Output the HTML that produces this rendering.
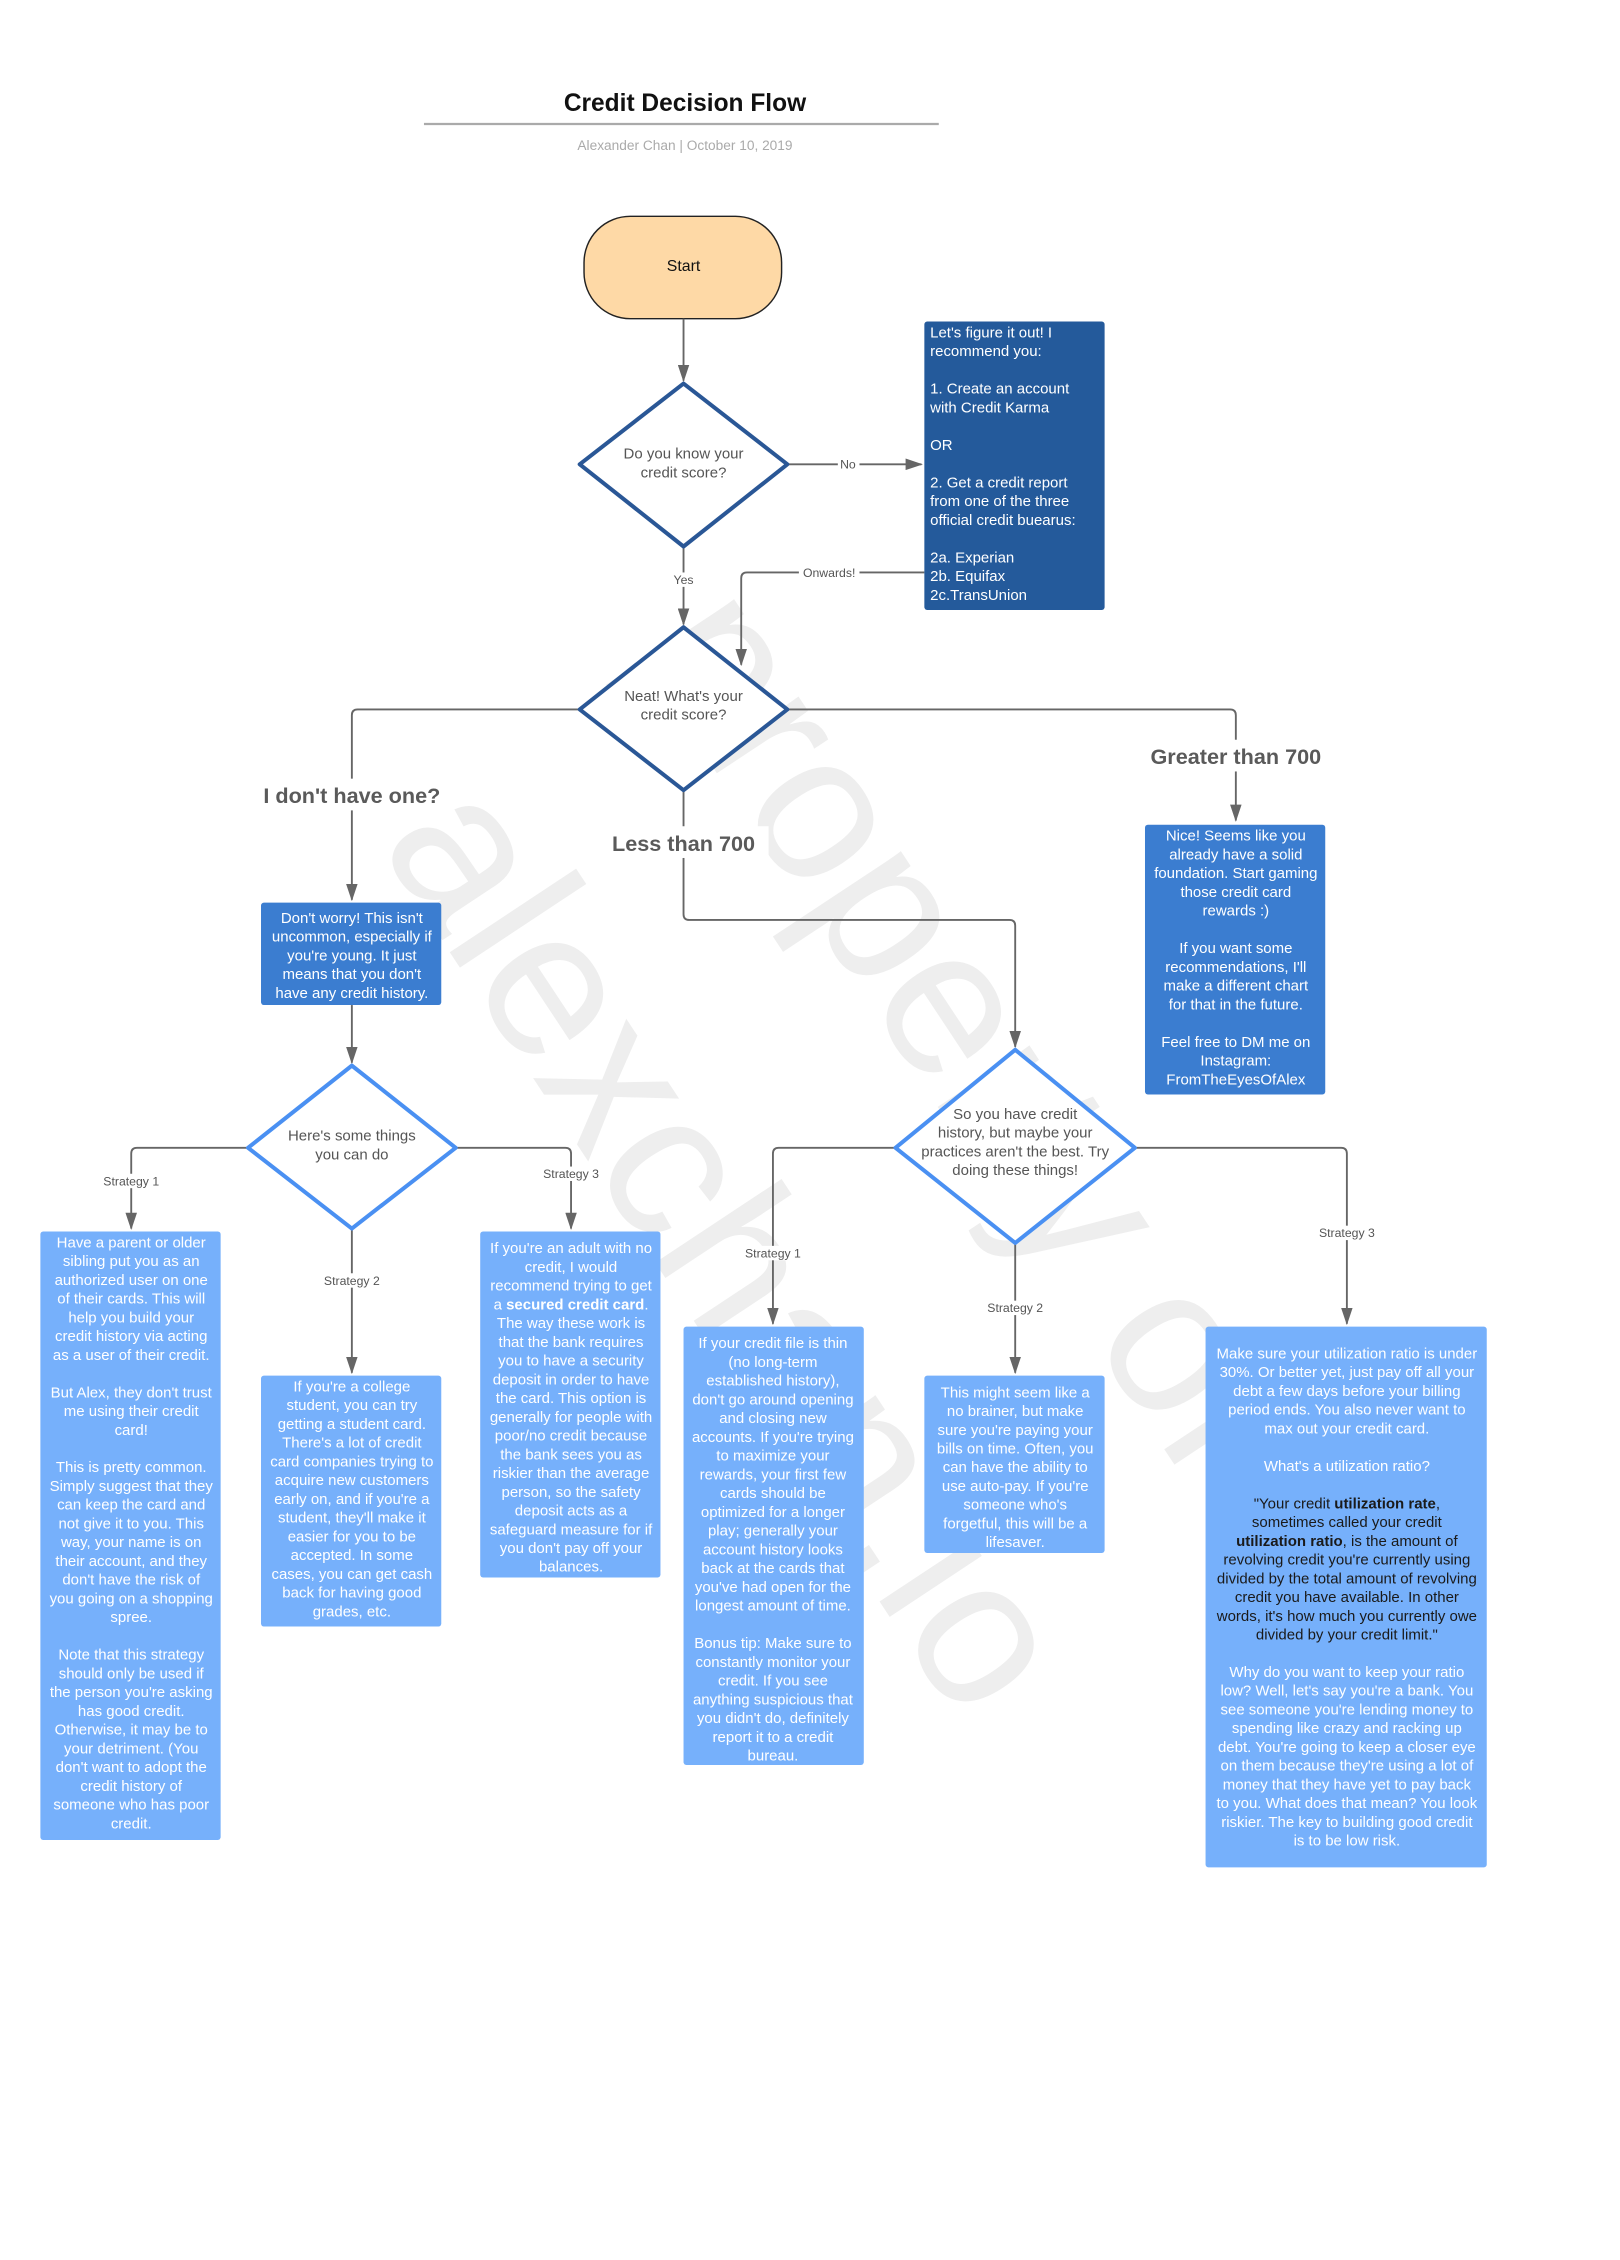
<!DOCTYPE html>
<html><head><meta charset="utf-8"><style>
html,body{margin:0;padding:0;background:#fff;width:1620px;height:2260px;overflow:hidden}
svg{display:block}
text{font-family:"Liberation Sans",Arial,sans-serif}
.c{stroke:#666;stroke-width:1.3;fill:none}
.lbl{font-size:8.5px;fill:#555;text-anchor:middle}
.big{font-size:15px;font-weight:bold;fill:#5a5a5a;text-anchor:middle}
.bt{font-size:10.4px;fill:#fff;text-anchor:middle}
.dt{font-size:10.4px;fill:#555;text-anchor:middle}
</style></head><body>
<svg width="1620" height="2260" viewBox="0 0 1123.4 1567.3" preserveAspectRatio="none" xmlns="http://www.w3.org/2000/svg">
<defs>
<marker id="v" markerWidth="8" markerHeight="12" refX="4" refY="11" orient="0" markerUnits="userSpaceOnUse"><path d="M0,0 L8,0 L4,12 z" fill="#666"/></marker>
<marker id="h" markerWidth="12" markerHeight="8" refX="11" refY="4" orient="0" markerUnits="userSpaceOnUse"><path d="M0,0 L12,4 L0,8 z" fill="#666"/></marker></defs>

<!-- watermark -->
<g fill="#eeeeee" font-family="Liberation Sans, sans-serif" font-size="145">
<text transform="translate(440,450) rotate(56.5)">property of</text>
<text transform="translate(262,585) rotate(56.5)">alexchan.io</text>
</g>

<text x="475" y="77" text-anchor="middle" font-size="17" font-weight="bold" fill="#111">Credit Decision Flow</text>
<line x1="294" y1="86" x2="651" y2="86" stroke="#aaa" stroke-width="1.5"/>
<text x="475" y="104" text-anchor="middle" font-size="9.5" fill="#aaa">Alexander Chan  |  October 10, 2019</text>

<rect x="405" y="150" width="137" height="71" rx="32" ry="32" fill="#fed9a6" stroke="#222" stroke-width="1"/>
<text x="474" y="188" text-anchor="middle" font-size="11" fill="#111">Start</text>

<path class="c" d="M474,221 V264" marker-end="url(#v)"/>
<path class="c" d="M547,322 H639" marker-end="url(#h)"/>
<rect x="581" y="317" width="15" height="10" fill="#fff"/><text class="lbl" x="588" y="325">No</text>
<path class="c" d="M474,380 V433" marker-end="url(#v)"/>
<rect x="463" y="397" width="22" height="10" fill="#fff"/><text class="lbl" x="474" y="405">Yes</text>
<path class="c" d="M641,397 H518 Q514,397 514,401 V461" marker-end="url(#v)"/>
<rect x="554" y="392" width="42" height="10" fill="#fff"/><text class="lbl" x="575" y="400">Onwards!</text>
<path class="c" d="M401,492 H248 Q244,492 244,496 V624" marker-end="url(#v)"/>
<rect x="175" y="540" width="138" height="22" fill="#fff"/><text class="big" x="244" y="557">I don't have one?</text>
<path class="c" d="M547,492 H853 Q857,492 857,496 V569" marker-end="url(#v)"/>
<rect x="790" y="513" width="134" height="22" fill="#fff"/><text class="big" x="857" y="530">Greater than 700</text>
<path class="c" d="M474,549 V634 Q474,638 478,638 H700 Q704,638 704,642 V726" marker-end="url(#v)" stroke="#888"/>
<rect x="415" y="573" width="118" height="22" fill="#fff"/><text class="big" x="474" y="590">Less than 700</text>
<path class="c" d="M244,697 V737" marker-end="url(#v)"/>
<path class="c" d="M171,796 H95 Q91,796 91,800 V852" marker-end="url(#v)"/>
<rect x="66" y="814" width="50" height="10" fill="#fff"/><text class="lbl" x="91" y="822">Strategy 1</text>
<path class="c" d="M244,853 V952" marker-end="url(#v)"/>
<rect x="219" y="883" width="50" height="10" fill="#fff"/><text class="lbl" x="244" y="891">Strategy 2</text>
<path class="c" d="M317,796 H392 Q396,796 396,800 V852" marker-end="url(#v)"/>
<rect x="371" y="809" width="50" height="10" fill="#fff"/><text class="lbl" x="396" y="817">Strategy 3</text>
<path class="c" d="M620,796 H540 Q536,796 536,800 V918" marker-end="url(#v)"/>
<rect x="511" y="864" width="50" height="10" fill="#fff"/><text class="lbl" x="536" y="872">Strategy 1</text>
<path class="c" d="M704,863 V952" marker-end="url(#v)"/>
<rect x="679" y="902" width="50" height="10" fill="#fff"/><text class="lbl" x="704" y="910">Strategy 2</text>
<path class="c" d="M788,796 H930 Q934,796 934,800 V918" marker-end="url(#v)"/>
<rect x="909" y="850" width="50" height="10" fill="#fff"/><text class="lbl" x="934" y="858">Strategy 3</text>

<path d="M474,266 L546,322 L474,379 L402,322 Z" fill="#fff" stroke="#2a5796" stroke-width="2.8" stroke-linejoin="round"/>
<text class="dt" x="474" y="318">Do you know your</text><text class="dt" x="474" y="331">credit score?</text>
<path d="M474,435 L546,492 L474,548 L402,492 Z" fill="#fff" stroke="#2a5796" stroke-width="2.8" stroke-linejoin="round"/>
<text class="dt" x="474" y="486">Neat! What's your</text><text class="dt" x="474" y="499">credit score?</text>
<path d="M244,739 L316,796 L244,852 L172,796 Z" fill="#fff" stroke="#4a90f2" stroke-width="2.8" stroke-linejoin="round"/>
<text class="dt" x="244" y="791">Here's some things</text><text class="dt" x="244" y="804">you can do</text>
<path d="M704,728 L787,796 L704,862 L621,796 Z" fill="#fff" stroke="#4a90f2" stroke-width="2.8" stroke-linejoin="round"/>
<text class="dt" x="704" y="776">So you have credit</text><text class="dt" x="704" y="789">history, but maybe your</text><text class="dt" x="704" y="802">practices aren't the best. Try</text><text class="dt" x="704" y="815">doing these things!</text>

<rect x="641" y="223" width="125" height="200" rx="2" fill="#245a9b"/>
<text font-size="10.4" fill="#fff"><tspan x="645" y="234">Let's figure it out! I</tspan><tspan x="645" y="247">recommend you:</tspan><tspan x="645" y="273">1. Create an account</tspan><tspan x="645" y="286">with Credit Karma</tspan><tspan x="645" y="312">OR</tspan><tspan x="645" y="338">2. Get a credit report</tspan><tspan x="645" y="351">from one of the three</tspan><tspan x="645" y="364">official credit buearus:</tspan><tspan x="645" y="390">2a. Experian</tspan><tspan x="645" y="403">2b. Equifax</tspan><tspan x="645" y="416">2c.TransUnion</tspan></text>

<rect x="794" y="572" width="125" height="187" rx="2" fill="#3b7dd0"/>
<text class="bt"><tspan x="857" y="583">Nice! Seems like you</tspan><tspan x="857" y="596">already have a solid</tspan><tspan x="857" y="609">foundation. Start gaming</tspan><tspan x="857" y="622">those credit card</tspan><tspan x="857" y="635">rewards :)</tspan><tspan x="857" y="661">If you want some</tspan><tspan x="857" y="674">recommendations, I'll</tspan><tspan x="857" y="687">make a different chart</tspan><tspan x="857" y="700">for that in the future.</tspan><tspan x="857" y="726">Feel free to DM me on</tspan><tspan x="857" y="739">Instagram:</tspan><tspan x="857" y="752">FromTheEyesOfAlex</tspan></text>

<rect x="181" y="626" width="125" height="71" rx="2" fill="#3b7dd0"/>
<text class="bt"><tspan x="244" y="640">Don't worry! This isn't</tspan><tspan x="244" y="653">uncommon, especially if</tspan><tspan x="244" y="666">you're young. It just</tspan><tspan x="244" y="679">means that you don't</tspan><tspan x="244" y="692">have any credit history.</tspan></text>

<g fill="#76b0fb">
<rect x="28" y="854" width="125" height="422" rx="2"/>
<rect x="181" y="954" width="125" height="174" rx="2"/>
<rect x="333" y="854" width="125" height="240" rx="2"/>
<rect x="474" y="920" width="125" height="304" rx="2"/>
<rect x="641" y="954" width="125" height="123" rx="2"/>
<rect x="836" y="920" width="195" height="375" rx="2"/>
</g>

<text class="bt"><tspan x="91" y="865">Have a parent or older</tspan><tspan x="91" y="878">sibling put you as an</tspan><tspan x="91" y="891">authorized user on one</tspan><tspan x="91" y="904">of their cards. This will</tspan><tspan x="91" y="917">help you build your</tspan><tspan x="91" y="930">credit history via acting</tspan><tspan x="91" y="943">as a user of their credit.</tspan><tspan x="91" y="969">But Alex, they don't trust</tspan><tspan x="91" y="982">me using their credit</tspan><tspan x="91" y="995">card!</tspan><tspan x="91" y="1021">This is pretty common.</tspan><tspan x="91" y="1034">Simply suggest that they</tspan><tspan x="91" y="1047">can keep the card and</tspan><tspan x="91" y="1060">not give it to you. This</tspan><tspan x="91" y="1073">way, your name is on</tspan><tspan x="91" y="1086">their account, and they</tspan><tspan x="91" y="1099">don't have the risk of</tspan><tspan x="91" y="1112">you going on a shopping</tspan><tspan x="91" y="1125">spree.</tspan><tspan x="91" y="1151">Note that this strategy</tspan><tspan x="91" y="1164">should only be used if</tspan><tspan x="91" y="1177">the person you're asking</tspan><tspan x="91" y="1190">has good credit.</tspan><tspan x="91" y="1203">Otherwise, it may be to</tspan><tspan x="91" y="1216">your detriment. (You</tspan><tspan x="91" y="1229">don't want to adopt the</tspan><tspan x="91" y="1242">credit history of</tspan><tspan x="91" y="1255">someone who has poor</tspan><tspan x="91" y="1268">credit.</tspan></text>

<text class="bt"><tspan x="244" y="965">If you're a college</tspan><tspan x="244" y="978">student, you can try</tspan><tspan x="244" y="991">getting a student card.</tspan><tspan x="244" y="1004">There's a lot of credit</tspan><tspan x="244" y="1017">card companies trying to</tspan><tspan x="244" y="1030">acquire new customers</tspan><tspan x="244" y="1043">early on, and if you're a</tspan><tspan x="244" y="1056">student, they'll make it</tspan><tspan x="244" y="1069">easier for you to be</tspan><tspan x="244" y="1082">accepted. In some</tspan><tspan x="244" y="1095">cases, you can get cash</tspan><tspan x="244" y="1108">back for having good</tspan><tspan x="244" y="1121">grades, etc.</tspan></text>

<text class="bt"><tspan x="396" y="869">If you're an adult with no</tspan><tspan x="396" y="882">credit, I would</tspan><tspan x="396" y="895">recommend trying to get</tspan><tspan x="396" y="908">a <tspan font-weight="bold">secured credit card</tspan>.</tspan><tspan x="396" y="921">The way these work is</tspan><tspan x="396" y="934">that the bank requires</tspan><tspan x="396" y="947">you to have a security</tspan><tspan x="396" y="960">deposit in order to have</tspan><tspan x="396" y="973">the card. This option is</tspan><tspan x="396" y="986">generally for people with</tspan><tspan x="396" y="999">poor/no credit because</tspan><tspan x="396" y="1012">the bank sees you as</tspan><tspan x="396" y="1025">riskier than the average</tspan><tspan x="396" y="1038">person, so the safety</tspan><tspan x="396" y="1051">deposit acts as a</tspan><tspan x="396" y="1064">safeguard measure for if</tspan><tspan x="396" y="1077">you don't pay off your</tspan><tspan x="396" y="1090">balances.</tspan></text>

<text class="bt"><tspan x="536" y="935">If your credit file is thin</tspan><tspan x="536" y="948">(no long-term</tspan><tspan x="536" y="961">established history),</tspan><tspan x="536" y="974">don't go around opening</tspan><tspan x="536" y="987">and closing new</tspan><tspan x="536" y="1000">accounts. If you're trying</tspan><tspan x="536" y="1013">to maximize your</tspan><tspan x="536" y="1026">rewards, your first few</tspan><tspan x="536" y="1039">cards should be</tspan><tspan x="536" y="1052">optimized for a longer</tspan><tspan x="536" y="1065">play; generally your</tspan><tspan x="536" y="1078">account history looks</tspan><tspan x="536" y="1091">back at the cards that</tspan><tspan x="536" y="1104">you've had open for the</tspan><tspan x="536" y="1117">longest amount of time.</tspan><tspan x="536" y="1143">Bonus tip: Make sure to</tspan><tspan x="536" y="1156">constantly monitor your</tspan><tspan x="536" y="1169">credit. If you see</tspan><tspan x="536" y="1182">anything suspicious that</tspan><tspan x="536" y="1195">you didn't do, definitely</tspan><tspan x="536" y="1208">report it to a credit</tspan><tspan x="536" y="1221">bureau.</tspan></text>

<text class="bt"><tspan x="704" y="969">This might seem like a</tspan><tspan x="704" y="982">no brainer, but make</tspan><tspan x="704" y="995">sure you're paying your</tspan><tspan x="704" y="1008">bills on time. Often, you</tspan><tspan x="704" y="1021">can have the ability to</tspan><tspan x="704" y="1034">use auto-pay. If you're</tspan><tspan x="704" y="1047">someone who's</tspan><tspan x="704" y="1060">forgetful, this will be a</tspan><tspan x="704" y="1073">lifesaver.</tspan></text>

<text class="bt"><tspan x="934" y="942">Make sure your utilization ratio is under</tspan><tspan x="934" y="955">30%. Or better yet, just pay off all your</tspan><tspan x="934" y="968">debt a few days before your billing</tspan><tspan x="934" y="981">period ends. You also never want to</tspan><tspan x="934" y="994">max out your credit card.</tspan><tspan x="934" y="1020">What's a utilization ratio?</tspan></text>
<text class="bt" style="fill:#1a1a1a"><tspan x="934" y="1046">"Your credit <tspan font-weight="bold">utilization rate</tspan>,</tspan><tspan x="934" y="1059">sometimes called your credit</tspan><tspan x="934" y="1072"><tspan font-weight="bold">utilization ratio</tspan>, is the amount of</tspan><tspan x="934" y="1085">revolving credit you're currently using</tspan><tspan x="934" y="1098">divided by the total amount of revolving</tspan><tspan x="934" y="1111">credit you have available. In other</tspan><tspan x="934" y="1124">words, it's how much you currently owe</tspan><tspan x="934" y="1137">divided by your credit limit."</tspan></text>
<text class="bt"><tspan x="934" y="1163">Why do you want to keep your ratio</tspan><tspan x="934" y="1176">low? Well, let's say you're a bank. You</tspan><tspan x="934" y="1189">see someone you're lending money to</tspan><tspan x="934" y="1202">spending like crazy and racking up</tspan><tspan x="934" y="1215">debt. You're going to keep a closer eye</tspan><tspan x="934" y="1228">on them because they're using a lot of</tspan><tspan x="934" y="1241">money that they have yet to pay back</tspan><tspan x="934" y="1254">to you. What does that mean? You look</tspan><tspan x="934" y="1267">riskier. The key to building good credit</tspan><tspan x="934" y="1280">is to be low risk.</tspan></text>
</svg>
</body></html>
